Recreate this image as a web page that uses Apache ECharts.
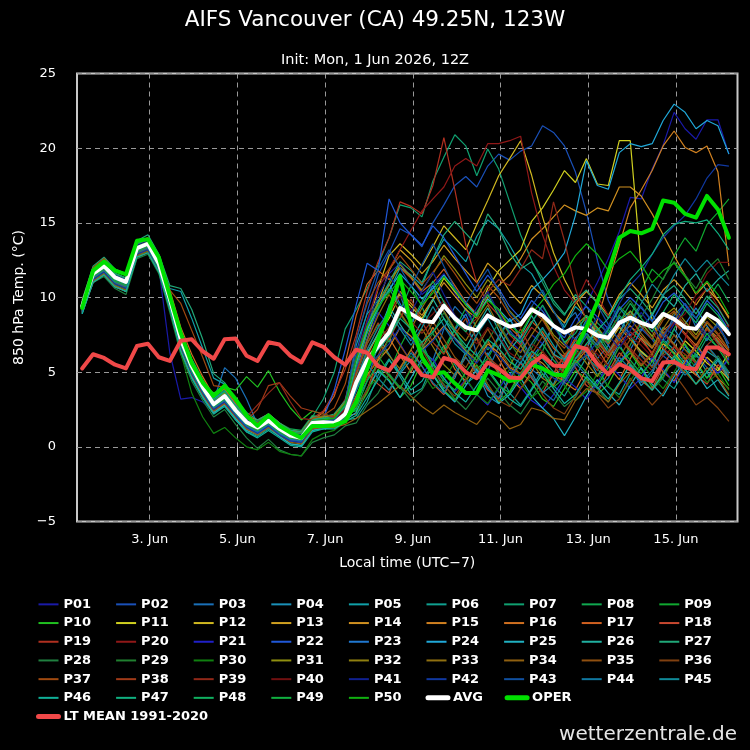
<!DOCTYPE html>
<html>
<head>
<meta charset="utf-8">
<title>AIFS Vancouver (CA) 49.25N, 123W</title>
<script src="https://cdn.jsdelivr.net/npm/echarts@6/dist/echarts.min.js"></script>
<style>
  html, body { margin: 0; padding: 0; background: #000; }
  #main { width: 750px; height: 750px; }
</style>
</head>
<body>
<div id="main"></div>
<script>
// run 1 Jun 2026 12Z = 05:00 local (UTC-7), 6-hourly steps out to +360h
var initLocalHour = 5;
var leadHours = [];
for (var s = 1; s <= 60; s++) leadHours.push(s * 6);
var tickDays = [3, 5, 7, 9, 11, 13, 15];

var P01 = [9.1, 11.3, 11.9, 11.0, 10.7, 13.0, 13.4, 12.0, 6.3, 3.2, 3.3, 3.0, 2.4, 3.0, 2.1, 1.3, 0.9, 1.4, 0.9, 0.4, 0.3, 1.2, 1.4, 1.5, 2.6,
  5.2, 8.4, 10.8, 11.6, 12.3, 11.4, 10.2, 10.8, 11.6, 10.3, 9.1, 8.0, 8.9, 8.2, 7.1, 6.4, 7.5, 6.9, 5.8, 5.4, 8.0, 9.6, 11.0, 12.6, 14.4, 16.7, 16.6, 18.6, 20.2, 22.4, 21.3, 20.6, 21.9, 21.9, 19.6];
var P02 = [9.3, 11.5, 12.0, 11.2, 10.9, 13.2, 13.5, 12.1, 9.7, 7.0, 5.3, 3.9, 2.7, 3.3, 2.3, 1.5, 1.1, 1.6, 1.0, 0.6, 0.5, 1.5, 1.6, 1.7, 2.9,
  6.3, 9.0, 11.5, 13.0, 14.6, 14.2, 13.4, 15.0, 16.2, 17.5, 18.1, 17.4, 18.8, 19.6, 19.2, 19.8, 20.15, 21.5, 21.05, 20.15, 18.4, 15.7, 12.5, 9.8, 8.4, 7.5, 7.9, 7.2, 6.1, 5.5, 6.7, 6.2, 5.3, 4.9, 6.0];
var P03 = [9.6, 11.8, 12.3, 11.5, 11.2, 13.5, 13.8, 12.5, 10.2, 7.6, 5.7, 4.3, 3.1, 5.3, 4.6, 3.2, 1.5, 1.9, 1.4, 0.9, 0.8, 1.8, 1.8, 1.7, 2.1,
  3.0, 4.4, 6.8, 9.5, 10.2, 8.1, 6.5, 5.8, 7.9, 9.4, 8.6, 6.2, 5.1, 6.7, 7.8, 6.9, 5.2, 4.6, 6.1, 8.3, 9.0, 7.4, 5.9, 6.8, 8.7, 7.5, 6.1, 5.4, 7.2, 8.8, 9.6, 8.0, 7.1, 8.4, 6.6];
var P04 = [9.2, 11.4, 11.9, 11.2, 10.8, 13.1, 13.4, 12.0, 9.6, 6.9, 5.1, 3.7, 2.6, 3.2, 2.2, 1.4, 1.0, 1.5, 1.0, 0.5, 0.4, 1.4, 1.5, 1.5, 2.0,
  2.6, 5.1, 7.4, 6.2, 4.9, 5.8, 7.0, 5.3, 3.9, 4.6, 6.4, 5.1, 3.4, 2.9, 4.8, 6.1, 5.0, 3.6, 4.2, 5.9, 7.2, 6.3, 4.8, 5.6, 6.9, 5.4, 4.1, 4.9, 6.6, 7.9, 6.8, 5.5, 4.6, 5.8, 4.4];
var P05 = [9.5, 11.7, 12.2, 11.4, 11.1, 13.4, 13.7, 12.4, 10.6, 10.4, 8.6, 6.6, 4.6, 4.2, 3.0, 2.1, 1.6, 1.9, 1.3, 0.8, 0.7, 1.7, 1.8, 1.9, 3.0,
  6.8, 8.9, 9.8, 10.4, 12.0, 11.5, 10.8, 12.6, 13.9, 13.2, 12.4, 14.1, 15.2, 14.6, 13.5, 12.2, 11.6, 10.3, 9.1, 8.0, 9.4, 8.7, 7.6, 6.9, 8.1, 7.4, 6.3, 5.8, 7.2, 6.5, 5.6, 5.2, 6.4, 5.9, 5.0];
var P06 = [9.0, 11.2, 11.7, 10.9, 10.5, 12.9, 13.2, 11.9, 9.3, 6.4, 4.6, 3.3, 2.2, 2.8, 1.8, 1.0, 0.7, 1.2, 0.7, 0.2, 0.1, 1.1, 1.3, 1.3, 1.8,
  1.9, 3.0, 4.8, 5.9, 4.7, 3.5, 3.9, 5.6, 6.8, 5.5, 4.2, 4.8, 6.3, 5.0, 3.6, 2.8, 3.9, 5.2, 4.1, 3.4, 4.7, 6.0, 5.3, 4.0, 3.5, 4.9, 6.4, 5.8, 4.5, 3.9, 5.1, 6.2, 5.0, 3.8, 3.2];
var P07 = [9.4, 11.6, 12.1, 11.3, 11.0, 13.3, 13.6, 12.3, 10.1, 7.5, 5.8, 4.4, 3.2, 3.8, 2.8, 2.0, 1.6, 2.0, 1.5, 1.1, 1.0, 2.0, 3.2, 5.0, 7.9,
  9.2, 10.6, 12.2, 14.0, 16.2, 16.0, 15.4, 17.8, 19.4, 20.9, 20.15, 18.15, 19.95, 18.6, 16.4, 14.2, 12.5, 11.0, 9.6, 8.8, 10.2, 9.4, 8.3, 7.6, 8.8, 8.1, 7.2, 6.6, 8.0, 7.5, 6.5, 6.0, 7.3, 6.7, 5.8];
var P08 = [9.7, 11.9, 12.4, 11.6, 11.3, 13.6, 13.9, 12.6, 10.3, 7.7, 5.9, 4.5, 3.3, 3.9, 2.9, 2.1, 1.7, 2.2, 1.6, 1.2, 1.1, 2.1, 2.0, 1.9, 2.3,
  4.6, 6.9, 8.2, 7.0, 9.1, 10.8, 9.4, 7.6, 6.3, 7.9, 9.3, 8.0, 6.5, 7.2, 8.6, 7.1, 5.8, 6.4, 8.2, 7.0, 5.6, 6.1, 7.7, 6.5, 5.4, 6.8, 8.3, 7.4, 6.2, 7.9, 9.2, 8.6, 9.8, 10.9, 9.7];
var P09 = [9.3, 11.5, 12.0, 11.3, 11.0, 13.2, 13.5, 12.2, 9.8, 7.1, 5.3, 3.9, 2.8, 3.3, 2.4, 1.6, 1.2, 1.7, 1.1, 0.7, 0.5, 1.5, 1.6, 1.6, 2.0,
  3.2, 5.4, 6.1, 5.0, 6.7, 8.1, 6.8, 5.5, 6.6, 7.9, 6.4, 5.2, 5.9, 7.3, 6.0, 4.7, 5.6, 6.9, 5.8, 4.9, 6.2, 7.4, 6.6, 7.8, 9.4, 8.7, 10.5, 11.9, 11.2, 12.8, 14.0, 13.1, 14.9, 15.7, 16.6];
var P10 = [9.0, 11.1, 11.6, 10.8, 10.4, 12.8, 13.1, 11.8, 9.4, 6.8, 5.2, 4.2, 3.6, 4.0, 3.8, 4.7, 4.0, 5.1, 3.7, 2.6, 1.8, 2.4, 2.2, 2.0, 2.3,
  2.4, 3.6, 5.2, 4.5, 3.3, 4.1, 5.7, 4.9, 3.8, 3.1, 4.4, 5.5, 4.2, 3.0, 3.7, 5.0, 4.3, 3.2, 2.7, 3.9, 5.1, 4.6, 3.5, 4.2, 5.6, 6.3, 5.2, 4.0, 4.7, 6.0, 6.9, 5.7, 4.6, 5.3, 4.1];
var P11 = [9.5, 11.7, 12.2, 11.4, 11.1, 13.4, 13.7, 12.3, 10.0, 7.3, 5.4, 4.0, 2.9, 3.4, 2.5, 1.7, 1.3, 1.8, 1.2, 0.8, 0.6, 1.6, 1.7, 1.6, 2.4,
  4.6, 6.3, 7.5, 8.6, 10.2, 9.4, 8.6, 9.8, 11.3, 10.4, 9.5, 8.8, 10.6, 11.8, 12.5, 13.2, 15.1, 16.0, 17.2, 18.5, 17.7, 19.3, 17.6, 17.5, 20.5, 20.5, 12.0, 8.5, 6.5, 5.8, 7.1, 6.4, 5.6, 5.1, 6.3];
var P12 = [9.2, 11.4, 11.9, 11.1, 10.8, 13.1, 13.4, 12.1, 9.7, 7.0, 5.2, 3.8, 2.7, 3.2, 2.3, 1.5, 1.1, 1.6, 1.0, 0.6, 0.5, 1.4, 1.5, 1.5, 2.2,
  4.9, 7.8, 10.6, 12.8, 13.6, 12.9, 12.1, 13.4, 14.8, 14.0, 13.2, 14.9, 16.5, 18.15, 19.3, 20.5, 18.2, 15.4, 13.0, 11.2, 9.8, 8.6, 7.5, 6.9, 8.0, 7.2, 6.4, 5.7, 6.9, 6.3, 5.4, 4.8, 6.0, 5.3, 4.5];
var P13 = [9.6, 11.8, 12.3, 11.5, 11.2, 13.5, 13.8, 12.4, 10.1, 7.4, 5.6, 4.2, 3.0, 3.5, 2.6, 1.8, 1.4, 1.9, 1.3, 0.9, 0.8, 1.7, 1.7, 1.7, 2.5,
  5.0, 7.2, 9.6, 11.8, 13.2, 12.5, 11.6, 12.4, 13.5, 12.6, 11.8, 11.0, 12.3, 11.6, 10.4, 9.6, 10.8, 10.1, 9.0, 8.3, 9.6, 10.4, 9.7, 8.8, 10.2, 11.0, 10.2, 9.3, 10.5, 11.2, 10.4, 9.5, 10.6, 9.8, 8.7];
var P14 = [9.1, 11.3, 11.8, 11.1, 10.7, 13.0, 13.3, 12.0, 9.5, 6.9, 5.1, 3.7, 2.6, 3.1, 2.2, 1.4, 1.0, 1.5, 1.0, 0.5, 0.4, 1.3, 1.4, 1.5, 2.1,
  4.2, 6.1, 7.6, 8.8, 10.4, 9.6, 8.8, 9.9, 11.0, 10.1, 9.2, 8.6, 10.0, 10.8, 11.5, 12.6, 13.9, 14.6, 15.4, 16.2, 15.8, 15.5, 16.0, 15.8, 17.4, 17.4, 16.8, 15.6, 14.2, 12.8, 11.5, 10.2, 11.0, 9.8, 8.6];
var P15 = [9.4, 11.5, 12.0, 11.3, 11.0, 13.2, 13.5, 12.2, 9.9, 7.3, 5.5, 4.1, 2.9, 3.4, 2.5, 1.7, 1.3, 1.8, 1.2, 0.8, 0.7, 1.6, 1.5, 1.4, 1.9,
  3.4, 4.8, 5.8, 6.6, 8.0, 7.4, 6.5, 7.2, 8.1, 7.3, 6.4, 5.8, 6.9, 6.3, 5.3, 4.9, 6.1, 5.6, 4.8, 4.4, 5.6, 6.5, 8.5, 11.0, 13.5, 16.0, 17.2, 18.5, 20.15, 21.15, 20.05, 19.7, 20.15, 18.4, 12.1];
var P16 = [9.8, 12.0, 12.6, 11.8, 11.5, 13.7, 14.0, 12.8, 10.5, 8.0, 6.2, 4.7, 3.4, 3.9, 2.9, 2.1, 1.8, 2.2, 1.6, 1.1, 1.0, 2.0, 1.9, 1.8, 2.1,
  2.2, 3.8, 5.9, 7.3, 6.1, 5.0, 6.6, 8.0, 6.7, 5.2, 4.4, 5.8, 7.1, 5.9, 4.6, 3.9, 5.0, 6.4, 5.5, 4.3, 3.8, 5.2, 6.6, 5.4, 4.5, 5.9, 7.3, 6.2, 5.0, 4.4, 5.7, 6.9, 5.8, 4.6, 3.9];
var P17 = [9.3, 11.4, 11.9, 11.2, 10.9, 13.1, 13.4, 12.1, 9.8, 7.2, 5.4, 4.0, 2.9, 3.4, 2.5, 1.7, 1.3, 1.8, 1.2, 0.8, 0.7, 1.8, 2.3, 3.4, 5.6,
  8.8, 10.9, 11.8, 11.2, 12.0, 11.3, 10.4, 11.0, 11.9, 10.8, 9.7, 8.9, 9.9, 9.1, 8.0, 7.3, 8.4, 7.7, 6.6, 6.0, 7.3, 7.9, 7.1, 6.2, 7.5, 8.1, 7.4, 6.6, 7.8, 8.4, 7.6, 6.8, 8.0, 7.3, 6.4];
var P18 = [9.0, 11.0, 11.5, 10.7, 10.4, 12.7, 13.0, 11.7, 9.2, 6.4, 4.7, 3.4, 2.3, 2.9, 1.9, 1.2, 0.9, 1.4, 0.8, 0.4, 0.3, 1.3, 1.4, 1.4, 1.9,
  3.4, 4.9, 4.2, 3.6, 5.3, 6.5, 5.4, 4.2, 3.5, 4.8, 6.0, 4.9, 3.8, 3.2, 4.5, 5.6, 4.6, 3.6, 4.9, 6.2, 5.3, 4.1, 3.6, 5.0, 6.3, 5.6, 4.4, 3.9, 5.4, 6.7, 5.9, 4.8, 4.2, 5.5, 4.7];
var P19 = [9.6, 11.9, 12.5, 11.6, 11.3, 13.5, 13.8, 12.5, 10.2, 7.5, 5.6, 4.2, 3.0, 3.6, 2.6, 1.8, 1.4, 1.9, 1.3, 0.9, 0.8, 1.9, 2.4, 3.6, 5.2,
  7.5, 10.4, 12.4, 14.0, 16.4, 16.1, 15.6, 17.5, 20.7, 17.2, 13.5, 11.0, 9.6, 8.8, 7.5, 6.8, 8.0, 7.4, 6.2, 5.6, 6.9, 7.5, 6.8, 5.9, 7.0, 7.7, 7.1, 6.3, 7.6, 8.3, 7.5, 6.6, 7.9, 7.2, 6.1];
var P20 = [9.5, 11.8, 12.3, 11.5, 11.1, 13.4, 13.7, 12.3, 10.0, 7.3, 5.5, 4.1, 2.9, 3.4, 2.5, 1.7, 1.3, 1.8, 1.2, 0.8, 0.7, 1.6, 1.8, 2.0, 3.2,
  6.0, 8.5, 10.6, 11.9, 13.2, 14.5, 15.8, 16.6, 17.4, 18.8, 19.3, 18.8, 20.3, 20.3, 20.5, 20.8, 17.0, 14.2, 12.1, 10.5, 9.6, 11.2, 10.1, 8.8, 8.1, 7.3, 8.4, 7.7, 6.6, 6.0, 7.2, 9.8, 10.6, 9.4, 8.0];
var P21 = [9.2, 11.4, 11.9, 11.1, 10.8, 13.1, 13.4, 12.0, 9.6, 6.9, 5.1, 3.7, 2.6, 3.1, 2.2, 1.4, 1.0, 1.5, 0.9, 0.5, 0.4, 1.3, 1.5, 1.6, 2.4,
  5.1, 7.2, 9.0, 8.1, 6.9, 5.7, 4.8, 5.9, 4.6, 3.7, 4.5, 3.5, 2.8, 3.9, 4.9, 4.0, 3.1, 2.6, 3.5, 4.6, 4.0, 3.2, 4.3, 5.5, 4.8, 3.9, 4.6, 6.0, 5.2, 4.3, 5.5, 6.7, 5.8, 4.9, 5.9];
var P22 = [9.0, 11.2, 11.7, 10.9, 10.6, 12.9, 13.2, 11.9, 9.4, 6.7, 5.0, 3.6, 2.5, 3.0, 2.1, 1.3, 0.9, 1.4, 0.8, 0.4, 0.3, 1.3, 1.9, 3.8, 6.5,
  9.5, 12.3, 11.8, 16.6, 15.0, 14.2, 13.5, 14.8, 14.0, 12.8, 11.6, 10.4, 11.5, 10.6, 9.4, 8.6, 9.8, 9.1, 8.0, 7.3, 8.6, 9.4, 8.7, 7.9, 9.2, 10.0, 9.3, 8.4, 9.7, 10.3, 9.5, 8.6, 9.8, 9.0, 7.8];
var P23 = [9.7, 11.9, 12.4, 11.6, 11.3, 13.6, 13.9, 12.6, 10.3, 7.6, 5.8, 4.4, 3.2, 3.7, 2.8, 2.0, 1.6, 2.1, 1.5, 1.0, 0.9, 1.9, 1.9, 1.9, 2.6,
  5.5, 7.9, 9.3, 10.9, 9.6, 8.2, 9.5, 10.8, 9.1, 7.8, 8.9, 7.2, 6.1, 7.4, 8.6, 7.3, 6.0, 6.9, 8.1, 7.0, 5.9, 6.6, 7.9, 6.8, 5.7, 6.5, 7.8, 8.9, 7.6, 6.9, 8.2, 9.3, 8.1, 7.0, 6.2];
var P24 = [9.4, 11.6, 12.1, 11.4, 11.1, 13.3, 13.6, 12.3, 9.9, 7.2, 5.4, 4.0, 2.8, 3.4, 2.4, 1.6, 1.2, 1.7, 1.1, 0.7, 0.6, 1.6, 1.7, 1.8, 2.8,
  5.6, 7.8, 9.4, 10.5, 11.6, 10.8, 9.9, 10.6, 11.5, 10.6, 9.6, 8.8, 9.9, 9.2, 8.4, 8.9, 10.5, 11.2, 12.0, 13.0, 15.5, 19.15, 17.5, 17.25, 19.7, 20.3, 20.1, 20.3, 21.85, 22.95, 22.4, 21.3, 21.85, 21.5, 19.6];
var P25 = [8.9, 11.1, 11.6, 10.8, 10.4, 12.8, 13.1, 11.8, 9.3, 6.5, 4.7, 3.4, 2.3, 2.8, 1.9, 1.1, 0.8, 1.3, 0.7, 0.2, 0.1, 1.1, 1.2, 1.3, 1.8,
  2.3, 3.9, 5.1, 4.4, 3.3, 4.6, 5.9, 4.8, 3.7, 3.0, 4.1, 5.2, 4.0, 2.9, 3.5, 4.6, 3.4, 2.6, 1.9, 0.75, 2.0, 3.4, 4.5, 3.6, 2.8, 4.1, 5.3, 4.2, 3.4, 4.7, 5.9, 5.0, 3.9, 4.5, 3.4];
var P26 = [9.5, 11.7, 12.2, 11.5, 11.2, 13.4, 13.7, 12.4, 10.1, 7.4, 5.6, 4.2, 3.0, 3.5, 2.6, 1.8, 1.4, 1.9, 1.3, 0.9, 0.8, 1.8, 1.8, 1.8, 2.4,
  4.8, 6.3, 7.6, 9.4, 8.2, 7.1, 8.4, 9.9, 8.6, 7.3, 6.6, 8.0, 9.3, 7.8, 6.5, 7.4, 8.8, 7.5, 6.2, 5.8, 7.1, 8.5, 7.4, 6.3, 7.6, 9.1, 8.0, 8.8, 10.1, 9.4, 10.8, 11.6, 10.4, 11.2, 11.8];
var P27 = [9.8, 12.1, 12.7, 11.9, 11.6, 13.8, 14.2, 12.9, 10.8, 10.6, 9.2, 7.2, 4.9, 4.3, 3.2, 2.3, 1.8, 2.2, 1.6, 1.1, 1.0, 2.0, 2.0, 2.2, 3.1,
  6.0, 8.2, 9.7, 11.0, 12.4, 11.8, 11.0, 12.6, 14.2, 15.1, 14.3, 13.5, 15.6, 14.6, 13.0, 11.9, 12.4, 11.3, 9.8, 8.9, 9.8, 10.5, 9.6, 8.6, 9.9, 10.6, 9.8, 8.9, 10.2, 10.8, 9.9, 8.9, 10.1, 9.3, 8.1];
var P28 = [9.0, 11.0, 11.4, 10.6, 10.2, 12.6, 12.9, 11.6, 9.0, 6.2, 4.4, 3.1, 2.0, 2.5, 1.5, 0.6, -0.1, 0.5, -0.2, -0.5, -0.6, 0.3, 0.6, 0.8, 1.4,
  1.6, 2.8, 3.6, 4.9, 4.0, 3.1, 3.8, 5.1, 4.2, 3.2, 2.5, 3.5, 4.6, 3.7, 2.8, 2.2, 3.3, 4.4, 3.6, 2.7, 3.3, 4.5, 3.9, 3.0, 4.2, 5.6, 4.7, 3.8, 4.6, 6.0, 5.2, 4.2, 5.0, 6.1, 5.0];
var P29 = [9.3, 11.5, 12.0, 11.2, 10.9, 13.2, 13.5, 12.2, 9.8, 7.1, 5.3, 3.9, 2.7, 3.3, 2.4, 1.6, 1.2, 1.7, 1.1, 0.7, 0.6, 1.5, 1.6, 1.6, 2.2,
  4.5, 6.2, 5.5, 7.3, 8.9, 7.8, 6.6, 7.6, 9.0, 7.7, 6.5, 5.8, 7.1, 8.3, 7.0, 5.9, 6.6, 7.9, 6.8, 5.7, 6.2, 7.5, 6.6, 7.4, 8.9, 9.8, 8.7, 9.9, 11.3, 12.4, 11.5, 10.6, 11.9, 12.6, 11.2];
var P30 = [9.1, 11.2, 11.7, 10.9, 10.5, 12.8, 13.1, 11.7, 9.2, 6.3, 3.6, 2.0, 0.9, 1.3, 0.6, 0.0, -0.2, 0.3, -0.3, -0.5, -0.6, 0.5, 0.9, 1.1, 1.7,
  2.1, 3.9, 4.6, 3.8, 5.0, 6.1, 5.0, 3.9, 4.5, 5.7, 4.6, 3.5, 2.9, 4.0, 5.2, 4.3, 3.3, 3.9, 5.0, 4.1, 3.1, 3.7, 4.9, 4.1, 3.3, 4.4, 5.6, 4.7, 3.9, 5.0, 6.2, 5.3, 4.3, 4.9, 3.8];
var P31 = [9.6, 11.8, 12.3, 11.5, 11.2, 13.5, 13.8, 12.5, 10.2, 7.5, 5.7, 4.3, 3.1, 3.6, 2.7, 1.9, 1.5, 2.0, 1.4, 1.0, 0.9, 1.9, 2.0, 2.1, 3.0,
  5.8, 8.0, 9.6, 10.8, 12.2, 11.4, 10.5, 11.6, 12.8, 11.9, 10.9, 10.0, 11.2, 10.4, 9.1, 8.3, 9.4, 8.7, 7.5, 6.8, 8.1, 8.8, 8.0, 7.1, 8.4, 9.1, 8.3, 7.4, 8.7, 9.3, 8.4, 7.5, 8.7, 8.0, 6.9];
var P32 = [9.2, 11.3, 11.8, 11.0, 10.7, 13.0, 13.3, 12.0, 9.6, 6.9, 5.2, 3.8, 2.7, 3.2, 2.3, 1.5, 1.1, 1.6, 1.0, 0.6, 0.5, 1.5, 1.6, 1.6, 2.1,
  3.9, 5.8, 7.0, 6.1, 5.2, 6.5, 7.9, 6.7, 5.5, 4.8, 6.1, 7.3, 6.0, 4.9, 5.4, 6.8, 5.7, 4.6, 4.1, 5.3, 6.6, 5.6, 4.7, 5.9, 7.3, 6.4, 5.4, 6.2, 7.7, 6.9, 5.9, 6.6, 8.0, 7.1, 6.0];
var P33 = [9.4, 11.6, 12.1, 11.3, 11.0, 13.3, 13.6, 12.3, 9.9, 7.2, 5.4, 4.0, 2.8, 3.4, 2.4, 1.6, 1.2, 1.7, 1.2, 0.7, 0.6, 1.6, 1.7, 1.7, 2.3,
  4.9, 7.1, 8.8, 10.2, 9.0, 7.9, 9.3, 10.5, 9.1, 7.9, 7.1, 8.4, 9.5, 8.1, 6.9, 6.3, 7.5, 8.6, 7.3, 6.2, 6.8, 8.0, 7.0, 6.1, 7.3, 8.6, 7.6, 6.7, 7.9, 9.0, 8.0, 7.2, 8.3, 7.5, 6.5];
var P34 = [9.0, 11.1, 11.6, 10.8, 10.5, 12.8, 13.1, 11.8, 9.3, 6.6, 4.8, 3.5, 2.4, 2.9, 2.0, 1.2, 0.8, 1.3, 0.8, 0.3, 0.2, 1.2, 1.3, 1.3, 1.5,
  1.9, 2.4, 2.9, 3.5, 4.1, 3.4, 2.7, 2.2, 2.8, 2.3, 1.9, 1.5, 2.4, 2.0, 1.2, 1.5, 2.6, 2.4, 1.9, 1.8, 3.1, 3.9, 3.6, 3.0, 4.2, 5.0, 4.5, 3.8, 5.0, 5.6, 5.0, 4.2, 5.3, 4.6, 3.5];
var P35 = [9.5, 11.8, 12.3, 11.4, 11.1, 13.4, 13.7, 12.4, 10.0, 7.3, 5.5, 4.1, 2.9, 3.5, 2.5, 1.7, 1.3, 1.8, 1.3, 0.8, 0.7, 1.7, 1.6, 1.6, 2.2,
  3.3, 4.6, 6.1, 7.9, 6.8, 5.7, 6.9, 8.4, 7.2, 6.0, 5.3, 6.6, 7.9, 6.6, 5.4, 4.9, 6.2, 7.4, 6.1, 5.0, 5.6, 6.9, 5.9, 4.9, 6.0, 7.2, 6.2, 5.3, 6.3, 7.5, 6.5, 5.6, 6.7, 5.9, 4.8];
var P36 = [9.2, 11.3, 11.8, 11.0, 10.7, 13.0, 13.3, 12.0, 9.6, 6.9, 5.1, 3.8, 2.7, 3.2, 2.3, 1.5, 1.1, 1.6, 1.0, 0.6, 0.5, 1.4, 1.5, 1.5, 2.0,
  2.7, 3.8, 5.6, 4.7, 3.9, 5.3, 6.5, 5.2, 4.1, 3.4, 4.5, 5.4, 4.2, 3.1, 2.7, 3.9, 4.8, 3.5, 2.6, 2.2, 3.4, 4.4, 3.5, 2.6, 3.2, 4.6, 3.7, 2.8, 3.6, 4.9, 3.9, 2.8, 3.3, 2.6, 1.7];
var P37 = [9.7, 12.0, 12.6, 11.8, 11.5, 13.7, 14.0, 12.7, 10.5, 9.6, 7.8, 6.0, 4.1, 4.0, 3.0, 2.0, 1.6, 2.1, 1.5, 1.0, 0.9, 1.9, 2.1, 2.6, 4.2,
  7.2, 9.6, 11.0, 11.9, 12.8, 11.9, 10.9, 11.7, 12.6, 11.6, 10.5, 9.6, 10.8, 10.0, 8.8, 8.0, 9.2, 8.5, 7.3, 6.6, 7.9, 8.6, 7.8, 6.9, 8.2, 8.9, 8.1, 7.2, 8.5, 9.1, 8.2, 7.3, 8.4, 7.6, 6.5];
var P38 = [9.1, 11.3, 11.8, 11.0, 10.6, 12.9, 13.2, 11.9, 9.5, 6.8, 5.0, 3.6, 2.5, 3.0, 2.1, 1.8, 2.5, 4.1, 4.3, 3.4, 2.6, 2.4, 2.2, 2.0, 2.6,
  5.0, 6.9, 8.3, 7.2, 8.6, 9.9, 8.4, 7.0, 6.2, 7.5, 8.6, 7.2, 6.0, 5.4, 6.7, 7.9, 6.5, 5.3, 4.8, 6.1, 7.2, 6.0, 5.1, 6.4, 7.6, 6.5, 5.5, 6.3, 7.6, 6.8, 5.8, 6.6, 7.9, 6.9, 5.6];
var P39 = [9.4, 11.6, 12.2, 11.4, 11.0, 13.3, 13.6, 12.3, 9.9, 7.2, 5.3, 3.9, 2.8, 3.3, 2.4, 2.0, 2.8, 3.6, 4.3, 3.0, 1.9, 1.8, 1.8, 1.9, 2.5,
  4.4, 6.0, 7.1, 8.0, 9.2, 8.4, 7.6, 8.5, 9.6, 8.8, 7.9, 8.6, 10.4, 11.2, 10.8, 11.9, 13.2, 12.6, 16.4, 13.8, 10.6, 8.4, 7.2, 6.2, 7.1, 6.6, 5.8, 5.1, 6.1, 6.7, 6.2, 5.6, 6.8, 7.5, 8.2];
var P40 = [9.3, 11.5, 12.0, 11.2, 10.9, 13.2, 13.5, 12.2, 9.8, 7.1, 5.3, 3.9, 2.8, 3.3, 2.4, 1.6, 1.2, 1.7, 1.1, 0.7, 0.6, 1.6, 1.7, 1.7, 2.5,
  4.6, 6.6, 7.9, 8.9, 10.1, 9.2, 8.2, 8.9, 9.8, 8.8, 7.7, 6.9, 8.0, 7.4, 6.3, 5.8, 6.9, 6.4, 5.4, 4.9, 6.1, 6.8, 6.2, 5.4, 6.7, 7.4, 6.8, 6.0, 7.4, 8.3, 8.9, 10.2, 11.6, 12.35, 12.35];
var P41 = [9.6, 11.8, 12.3, 11.5, 11.2, 13.5, 13.8, 12.4, 10.1, 7.4, 5.6, 4.2, 3.0, 3.5, 2.6, 1.8, 1.4, 1.9, 1.3, 0.9, 0.8, 1.7, 1.8, 1.8, 2.7,
  6.0, 8.3, 10.1, 11.5, 10.3, 9.0, 10.4, 11.7, 10.2, 8.8, 8.0, 9.3, 10.4, 9.0, 7.7, 7.1, 8.3, 9.4, 8.1, 6.9, 6.3, 7.5, 8.7, 7.5, 6.6, 7.8, 9.0, 8.0, 7.0, 8.2, 9.3, 8.3, 7.3, 8.1, 6.9];
var P42 = [9.0, 11.2, 11.7, 10.9, 10.6, 12.9, 13.2, 11.9, 9.4, 6.7, 4.9, 3.6, 2.5, 3.0, 2.1, 1.3, 0.9, 1.4, 0.8, 0.4, 0.3, 1.3, 1.4, 1.5, 2.2,
  3.8, 5.2, 6.1, 6.9, 8.0, 7.2, 6.4, 7.1, 8.0, 7.2, 6.3, 5.6, 6.7, 6.1, 5.2, 4.8, 5.9, 5.4, 4.6, 4.2, 5.4, 6.2, 7.0, 8.1, 9.6, 10.8, 11.6, 12.9, 14.0, 14.8, 15.5, 16.6, 18.0, 18.9, 18.8];
var P43 = [9.4, 11.6, 12.1, 11.3, 11.0, 13.3, 13.6, 12.3, 10.0, 7.3, 5.5, 4.1, 2.9, 3.4, 2.5, 1.7, 1.3, 1.8, 1.2, 0.8, 0.7, 1.7, 1.7, 1.8, 2.9,
  7.1, 9.8, 11.9, 13.2, 12.0, 10.7, 12.2, 13.6, 12.1, 10.6, 9.6, 10.8, 11.9, 10.4, 9.0, 8.2, 9.4, 10.5, 9.1, 7.8, 7.2, 8.4, 9.5, 8.2, 7.1, 8.3, 9.4, 8.4, 7.4, 8.5, 9.6, 8.6, 7.5, 8.2, 6.9];
var P44 = [9.1, 11.3, 11.8, 11.0, 10.7, 13.0, 13.3, 11.9, 9.5, 6.8, 5.0, 3.7, 2.6, 3.1, 2.2, 1.4, 1.0, 1.5, 0.9, 0.5, 0.4, 1.4, 1.5, 1.5, 1.9,
  3.7, 5.5, 4.6, 3.8, 5.0, 6.3, 5.4, 4.3, 3.6, 4.9, 6.0, 5.0, 3.9, 3.3, 4.6, 5.7, 4.7, 3.7, 3.1, 4.4, 5.6, 4.8, 3.9, 4.6, 6.0, 5.2, 4.3, 5.1, 6.5, 5.7, 4.8, 5.6, 6.8, 5.9, 4.9];
var P45 = [9.5, 11.7, 12.2, 11.4, 11.1, 13.4, 13.7, 12.4, 10.0, 7.3, 5.5, 4.1, 2.9, 3.5, 2.5, 1.7, 1.3, 1.8, 1.2, 0.8, 0.7, 1.7, 1.7, 1.7, 2.3,
  4.4, 6.5, 8.0, 9.1, 7.9, 6.8, 8.0, 9.4, 8.1, 6.9, 6.2, 7.5, 8.6, 7.3, 6.1, 5.6, 6.9, 8.0, 6.8, 5.8, 6.4, 7.6, 6.8, 7.9, 9.3, 8.4, 9.6, 10.9, 10.1, 11.5, 12.6, 11.7, 12.5, 11.6, 10.8];
var P46 = [8.9, 11.0, 11.5, 10.7, 10.4, 12.7, 13.0, 11.7, 9.2, 6.4, 4.6, 3.3, 2.2, 2.7, 1.8, 1.0, 0.6, 1.1, 0.6, 0.1, 0.0, 1.0, 1.2, 1.2, 1.7,
  2.1, 3.3, 4.5, 5.8, 4.9, 3.8, 4.4, 5.6, 4.6, 3.6, 3.0, 4.1, 5.2, 4.2, 3.2, 2.7, 3.8, 4.9, 3.9, 2.9, 3.5, 4.7, 4.0, 3.2, 4.3, 5.5, 4.6, 3.8, 4.9, 6.1, 5.2, 4.2, 5.0, 5.9, 4.6];
var P47 = [9.3, 11.5, 12.0, 11.2, 10.9, 13.2, 13.5, 12.2, 9.8, 7.1, 5.3, 3.9, 2.7, 3.3, 2.4, 1.6, 1.2, 1.7, 1.1, 0.7, 0.6, 1.5, 1.6, 1.6, 2.2,
  3.9, 5.5, 6.5, 7.4, 8.6, 7.9, 7.0, 7.7, 8.6, 7.7, 6.8, 6.1, 7.2, 6.6, 5.7, 5.2, 6.4, 5.9, 5.0, 4.6, 5.9, 6.9, 7.8, 8.6, 10.0, 11.2, 12.0, 12.9, 14.2, 14.9, 15.1, 15.0, 15.2, 14.3, 13.2];
var P48 = [9.7, 11.9, 12.4, 11.6, 11.3, 13.6, 13.9, 12.6, 10.3, 7.6, 5.8, 4.3, 3.1, 3.7, 2.7, 1.9, 1.5, 2.0, 1.4, 1.0, 0.9, 1.8, 1.9, 1.9, 2.7,
  5.4, 7.6, 9.2, 10.6, 9.4, 8.3, 9.7, 11.1, 9.7, 8.4, 7.7, 9.0, 10.2, 8.8, 7.6, 7.0, 8.3, 9.5, 8.2, 7.0, 7.6, 8.8, 7.9, 7.0, 8.3, 9.6, 8.6, 7.7, 9.0, 10.2, 9.2, 8.3, 9.6, 8.8, 7.7];
var P49 = [9.2, 11.4, 11.9, 11.1, 10.8, 13.1, 13.4, 12.0, 9.6, 6.9, 5.1, 3.8, 2.7, 3.2, 2.3, 1.5, 1.1, 1.6, 1.0, 0.6, 0.5, 1.4, 1.5, 1.5, 2.0,
  2.5, 4.4, 5.6, 4.8, 3.9, 5.2, 6.6, 5.5, 4.4, 3.8, 5.0, 6.1, 5.1, 4.1, 3.6, 4.8, 5.9, 4.9, 4.0, 4.6, 5.8, 5.0, 4.1, 5.3, 6.7, 5.8, 4.9, 5.7, 7.1, 6.2, 5.3, 6.3, 7.6, 6.6, 5.5];
var P50 = [9.5, 11.7, 12.2, 11.4, 11.1, 13.4, 13.7, 12.3, 10.0, 7.3, 5.5, 4.1, 2.9, 3.4, 2.5, 1.7, 1.3, 1.8, 1.2, 0.8, 0.7, 1.7, 1.8, 1.9, 2.9,
  5.9, 8.1, 9.4, 10.3, 11.2, 10.4, 9.5, 10.3, 11.4, 10.5, 9.5, 8.7, 9.8, 9.2, 8.1, 7.6, 8.9, 9.8, 10.9, 11.6, 12.8, 13.6, 12.9, 11.8, 12.6, 13.1, 12.2, 11.0, 11.8, 12.3, 11.4, 10.3, 11.1, 10.2, 8.9];

var avgValues = [9.4, 11.6, 12.1, 11.35, 11.05, 13.3, 13.6, 12.25, 9.9, 7.2, 5.4, 4.0, 2.85, 3.4, 2.45, 1.65, 1.3, 1.75, 1.2, 0.75, 0.6, 1.6, 1.65, 1.6, 2.2,
  4.3, 5.8, 6.75, 7.65, 9.3, 8.9, 8.45, 8.35, 9.45, 8.6, 8.0, 7.8, 8.8, 8.4, 8.05, 8.2, 9.2, 8.8, 8.1, 7.65, 8.0, 7.9, 7.45, 7.3, 8.3, 8.65, 8.3, 8.05, 8.9, 8.55, 8.0, 7.9, 8.9, 8.45, 7.55];
var operValues = [9.3, 11.8, 12.4, 11.8, 11.55, 13.8, 13.9, 12.7, 10.1, 7.6, 5.6, 4.3, 3.4, 4.1, 3.2, 2.1, 1.4, 2.1, 1.4, 0.95, 0.6, 1.4, 1.4, 1.45, 1.7,
  3.0, 5.2, 7.2, 9.0, 11.4, 8.2, 6.0, 4.9, 5.0, 4.25, 3.6, 3.6, 5.1, 4.8, 4.4, 4.55, 5.5, 5.25, 4.85, 4.8, 6.6, 8.0, 9.7, 11.7, 14.0, 14.45, 14.3, 14.6, 16.5, 16.35, 15.6, 15.35, 16.8, 15.9, 14.0];
var ltMeanValues = [5.25, 6.2, 5.95, 5.5, 5.25, 6.75, 6.9, 6.0, 5.75, 7.1, 7.2, 6.4, 5.9, 7.2, 7.25, 6.1, 5.75, 7.0, 6.85, 6.1, 5.65, 7.0, 6.7, 6.0, 5.5,
  6.5, 6.3, 5.4, 5.1, 6.1, 5.75, 4.8, 4.65, 5.95, 5.75, 5.0, 4.6, 5.65, 5.25, 4.65, 4.6, 5.55, 6.1, 5.45, 5.4, 6.75, 6.55, 5.55, 4.85, 5.55, 5.2, 4.6, 4.4, 5.65, 5.7, 5.3, 5.2, 6.65, 6.65, 6.2];

var members = [P01, P02, P03, P04, P05, P06, P07, P08, P09, P10,
  P11, P12, P13, P14, P15, P16, P17, P18, P19, P20,
  P21, P22, P23, P24, P25, P26, P27, P28, P29, P30,
  P31, P32, P33, P34, P35, P36, P37, P38, P39, P40,
  P41, P42, P43, P44, P45, P46, P47, P48, P49, P50];

var memberColors = [
  '#1a1aa8', '#1a50b8', '#1a70b8', '#1a90b8', '#10a0a8', '#10a090', '#10a070', '#10a850', '#10a830', '#20c020',
  '#d0d020', '#d0b820', '#d0a020', '#d09020', '#d08020', '#d07020', '#d06020', '#c84830', '#b03020', '#901818',
  '#2020c8', '#2058d8', '#2078d0', '#20a8d8', '#20b0c0', '#20b0a0', '#20a878', '#208040', '#208030', '#108010',
  '#909010', '#908010', '#907010', '#906010', '#905010', '#804010', '#a04a10', '#a03a18', '#902818', '#701010',
  '#102090', '#1038a0', '#1050a0', '#1078a0', '#108a98', '#10b098', '#10b080', '#10b060', '#10b040', '#10b010'
];

var font = 'DejaVu Sans';

function pairs(values) {
  return values.map(function (v, i) { return [initLocalHour + leadHours[i], v]; });
}

var tickHours = tickDays.map(function (d) { return (d - 1) * 24; });

var series = [], legendData = [];
members.forEach(function (vals, k) {
  var name = 'P' + (k < 9 ? '0' : '') + (k + 1);
  legendData.push(name);
  series.push({
    name: name, type: 'line', data: pairs(vals), symbol: 'none',
    lineStyle: { width: 1.2, color: memberColors[k] },
    itemStyle: { color: memberColors[k] },
    emphasis: { disabled: true }, silent: true
  });
});

//粗线：平均、主模式、气候平均
[['AVG', avgValues, '#ffffff'], ['OPER', operValues, '#00e000'], ['LT MEAN 1991-2020', ltMeanValues, '#f04848']].forEach(function (d) {
  var item = { name: d[0], lineStyle: { width: 5 } };
  if (d[0] === 'LT MEAN 1991-2020') item.textStyle = { width: 200 };
  legendData.push(item);
  series.push({
    name: d[0], type: 'line', data: pairs(d[1]), symbol: 'none',
    lineStyle: { width: 4, color: d[2], cap: 'round', join: 'round' },
    itemStyle: { color: d[2] },
    emphasis: { disabled: true }, silent: true
  });
});

var chart = echarts.init(document.getElementById('main'));
chart.setOption({
  animation: false,
  backgroundColor: '#000',
  textStyle: { fontFamily: font },
  title: [{
    text: 'AIFS Vancouver (CA) 49.25N, 123W', left: 'center', top: 4,
    textStyle: { color: '#fff', fontSize: 21.5, fontWeight: 'normal', fontFamily: font }
  }, {
    text: 'Init: Mon, 1 Jun 2026, 12Z', left: 'center', top: 48,
    textStyle: { color: '#fff', fontSize: 14.5, fontWeight: 'normal', fontFamily: font }
  }],
  grid: { left: 77, top: 73.5, right: 12.5, bottom: 228.5, show: true, borderColor: '#c8c8c8', borderWidth: 2 },
  legend: {
    data: legendData, left: 36, top: 595, width: 740, padding: 0,
    itemWidth: 20, itemHeight: 10, itemGap: 0,
    itemStyle: { opacity: 0 },
    lineStyle: { width: 2 },
    textStyle: { color: '#fff', fontSize: 13, fontWeight: 'bold', fontFamily: font, width: 51.6, height: 18.7, lineHeight: 18.7 },
    selectedMode: false
  },
  xAxis: {
    type: 'value', min: 8.2, max: 369.7,
    axisLine: { show: false },
    axisTick: { customValues: tickHours, length: 10, lineStyle: { color: '#ccc' } },
    axisLabel: {
      customValues: tickHours, color: '#fff', fontSize: 13, margin: 12,
      formatter: function (v) { return (Math.round(v / 24) + 1) + '. Jun'; }
    },
    splitLine: { show: true, lineStyle: { color: '#999', type: [5, 4], width: 1 } },
    name: 'Local time (UTC\u22127)', nameLocation: 'middle', nameGap: 35,
    nameTextStyle: { color: '#fff', fontSize: 14 }
  },
  yAxis: {
    type: 'value', min: -5, max: 25, interval: 5,
    axisLine: { show: false }, axisTick: { show: false },
    axisLabel: { color: '#fff', fontSize: 13, margin: 21, formatter: function (v) { return String(v).replace('-', '\u2212'); } },
    splitLine: { show: true, lineStyle: { color: '#999', type: [5, 4], width: 1 } },
    name: '850 hPa Temp. (°C)', nameLocation: 'middle', nameGap: 46,
    nameTextStyle: { color: '#fff', fontSize: 14 }
  },
  graphic: [{
    type: 'text', right: 13, bottom: 5,
    style: { text: 'wetterzentrale.de', fill: '#e6e6e6', font: '20px "DejaVu Sans"' }
  }],
  series: series
});
</script>
</body>
</html>
